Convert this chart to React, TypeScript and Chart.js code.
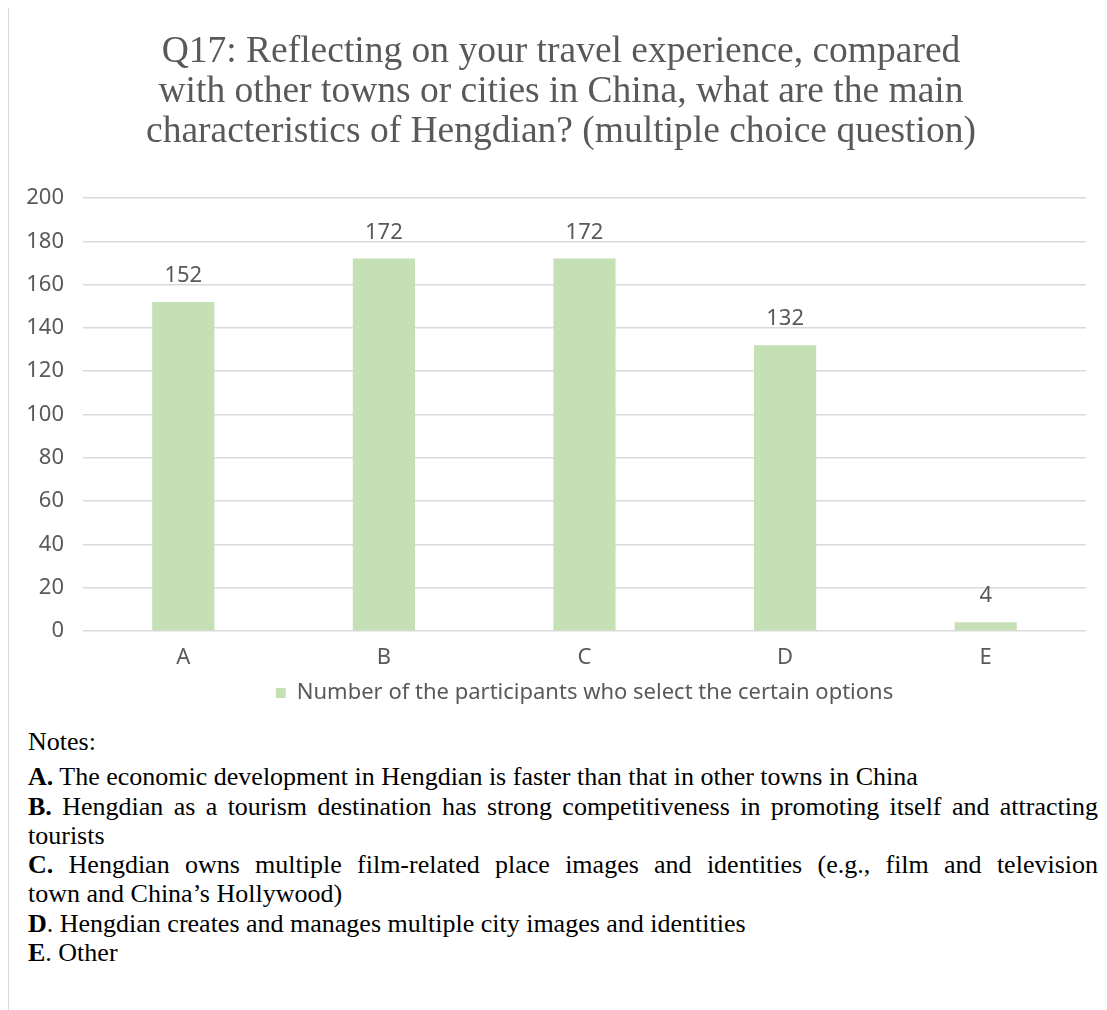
import React, { useEffect, useRef } from "react";
import { Chart, registerables } from "chart.js";

Chart.register(...registerables);

const categories = ["A", "B", "C", "D", "E"];
const participants = [152, 172, 172, 132, 4];
const yTicks = [0, 20, 40, 60, 80, 100, 120, 140, 160, 180, 200];
const seriesLabel = "Number of the participants who select the certain options";
const titleLines = [
  "Q17: Reflecting on your travel experience, compared",
  "with other towns or cities in China, what are the main",
  "characteristics of Hengdian? (multiple choice question)",
];
// [bold key, rest of first line, continuation line]
const noteItems: [string, string, string][] = [
  ["A.", " The economic development in Hengdian is faster than that in other towns in China", ""],
  ["B.", " Hengdian as a tourism destination has strong competitiveness in promoting itself and attracting", "tourists"],
  ["C.", " Hengdian owns multiple film-related place images and identities (e.g., film and television", "town and China\u2019s Hollywood)"],
  ["D", ". Hengdian creates and manages multiple city images and identities", ""],
  ["E", ". Other", ""],
];

const GRAY = "#595959";
const SANS = "'Noto Sans', 'DejaVu Sans', sans-serif";
const SERIF = "'Liberation Serif', 'Times New Roman', serif";

const valueLabels = {
  id: "valueLabels",
  afterDatasetsDraw(chart: any) {
    const ctx = chart.ctx;
    const meta = chart.getDatasetMeta(0);
    ctx.save();
    ctx.font = `22px ${SANS}`;
    ctx.fillStyle = GRAY;
    ctx.textAlign = "center";
    ctx.textBaseline = "alphabetic";
    meta.data.forEach((bar: any, i: number) => {
      ctx.fillText(String(chart.data.datasets[0].data[i]), bar.x, bar.y - 20);
    });
    ctx.restore();
  },
};

// centre the legend over the plot area and nudge the title, as in the reference
const blockShift = {
  id: "blockShift",
  afterLayout(chart: any) {
    const area = chart.chartArea;
    const lg = chart.legend;
    if (lg) {
      const d = (area.left + area.right) / 2 - (lg.left + lg.right) / 2;
      lg.left += d;
      lg.right += d;
      if (lg.legendHitBoxes) lg.legendHitBoxes.forEach((h: any) => (h.left += d));
    }
    const tb = chart.titleBlock;
    if (tb) {
      tb.left += 13.5;
      tb.right += 13.5;
    }
  },
};

export default function App() {
  const ref = useRef<HTMLCanvasElement>(null);
  useEffect(() => {
    document.body.style.overflow = "hidden";
    const chart = new Chart(ref.current!, {
      type: "bar",
      data: {
        labels: categories,
        datasets: [
          {
            label: seriesLabel,
            data: participants,
            backgroundColor: "#c5e0b4",
            categoryPercentage: 1,
            barPercentage: 0.31,
          },
        ],
      },
      plugins: [valueLabels, blockShift],
      options: {
        animation: false,
        responsive: false,
        layout: { padding: { left: 0, right: 21, top: 0, bottom: 0 } },
        plugins: {
          tooltip: { enabled: false },
          title: {
            display: true,
            text: titleLines,
            color: GRAY,
            font: { family: SERIF, size: 37.5, weight: "normal", lineHeight: 40 / 37.5 },
            padding: { top: 24, bottom: 46 },
          },
          legend: {
            position: "bottom",
            labels: {
              color: GRAY,
              font: { family: SANS, size: 22 },
              boxWidth: 10,
              boxHeight: 10,
              padding: 6,
            },
          },
        },
        scales: {
          x: {
            afterFit: (s: any) => {
              s.height = 45;
            },
            grid: { display: false, drawTicks: false },
            border: { display: false },
            ticks: { color: GRAY, font: { family: SANS, size: 22 }, padding: 14 },
          },
          y: {
            min: 0,
            max: 200,
            afterFit: (s: any) => {
              s.width = 74;
            },
            afterBuildTicks: (s: any) => {
              s.ticks = yTicks.map((v) => ({ value: v }));
            },
            grid: { color: "#d9d9d9", lineWidth: 1.5, drawTicks: false },
            border: { display: false },
            ticks: { color: GRAY, font: { family: SANS, size: 22 }, padding: 19 },
          },
        },
      },
    });
    return () => chart.destroy();
  }, []);

  return (
    <div
      style={{
        position: "relative",
        width: 1101,
        height: 1004,
        marginLeft: -1,
        marginTop: -2,
        borderTop: "2px solid #d9d9d9",
        borderLeft: "2px solid #d9d9d9",
        boxSizing: "border-box",
        background: "#fff",
      }}
    >
      <canvas ref={ref} width={1098} height={706} style={{ position: "absolute", left: 0, top: 0 }} />
      <div
        style={{
          position: "absolute",
          left: 19,
          top: 719,
          width: 1070,
          fontFamily: SERIF,
          fontSize: 26,
          lineHeight: "29.3px",
          color: "#000",
        }}
      >
        <div style={{ marginBottom: 6 }}>Notes:</div>
        {noteItems.map(([k, t, cont]) => (
          <div key={k}>
            <div style={cont ? { textAlign: "justify", textAlignLast: "justify" } : undefined}>
              <b>{k}</b>
              {t}
            </div>
            {cont ? <div>{cont}</div> : null}
          </div>
        ))}
      </div>
    </div>
  );
}
